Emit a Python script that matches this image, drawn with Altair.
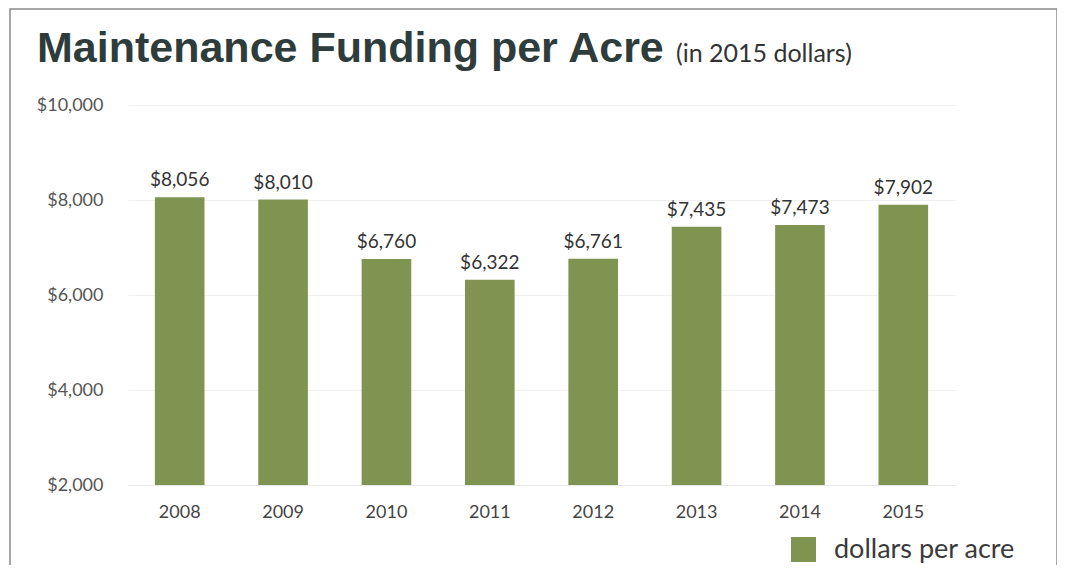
import altair as alt
import pandas as pd

years = ["2008", "2009", "2010", "2011", "2012", "2013", "2014", "2015"]
values = [8056, 8010, 6760, 6322, 6761, 7435, 7473, 7902]
series_name = "dollars per acre"
y_ticks = [2000, 4000, 6000, 8000, 10000]
title_text = "Maintenance Funding per Acre"
subtitle_text = "(in 2015 dollars)"

df = pd.DataFrame({"year": years, "value": values, "series": [series_name] * len(years)})
df["label"] = df["value"].map(lambda v: f"${v:,}")

base = alt.Chart(df)

bars = base.mark_bar(color="#7f9450", clip=True).encode(
    x=alt.X("year:N", title=None, sort=years,
            scale=alt.Scale(paddingInner=0.52, paddingOuter=0.26),
            axis=alt.Axis(labelAngle=0, labelFont="Lato", labelFontSize=18,
                          labelColor="#444", labelPadding=18, ticks=False,
                          domain=True, domainColor="#e8e8e8")),
    y=alt.Y("value:Q", title=None,
            scale=alt.Scale(domain=[2000, 10000], nice=False, zero=False),
            axis=alt.Axis(values=y_ticks, format="$,.0f", labelFont="Lato",
                          labelFontSize=18, labelColor="#555", labelPadding=25,
                          ticks=False, domain=False, gridColor="#f0f0f0")),
    fill=alt.Fill("series:N", scale=alt.Scale(range=["#7f9450"]),
                  legend=alt.Legend(title=None, orient="none", legendX=662, legendY=431,
                                    symbolType="square", symbolSize=625,
                                    symbolFillColor="#7f9450",
                                    symbolStrokeWidth=0, labelFont="Lato",
                                    labelFontSize=27, labelColor="#3a3a3a",
                                    labelLimit=400, labelOffset=17)),
)

labels = base.mark_text(baseline="alphabetic", dy=-11, font="Lato", fontSize=19,
                        color="#333").encode(
    x=alt.X("year:N", sort=years),
    y="value:Q",
    text="label:N",
)

title = alt.Chart(pd.DataFrame({"t": [title_text]})).mark_text(
    align="left", baseline="alphabetic", font="Liberation Sans", fontWeight="bold",
    fontSize=43, color="#2e3d3c").encode(
    x=alt.value(-91), y=alt.value(-43), text="t:N")

subtitle = alt.Chart(pd.DataFrame({"t": [subtitle_text]})).mark_text(
    align="left", baseline="alphabetic", font="Lato", fontSize=25,
    color="#333").encode(
    x=alt.value(548), y=alt.value(-43), text="t:N")

frame = alt.Chart(pd.DataFrame({"a": [0]})).mark_rect(
    fill=None, stroke="#8a8a8a", strokeWidth=1.5).encode(
    x=alt.value(-118), x2=alt.value(929), y=alt.value(-96), y2=alt.value(520))

chart = alt.layer(frame, bars, labels, title, subtitle).properties(
    width=827, height=380,
    autosize=alt.AutoSizeParams(type="none"),
    padding={"left": 120, "top": 97, "right": 102, "bottom": 80},
).configure(background="white").configure_view(stroke=None, strokeWidth=0)

chart.save("out.html", embed_options={"renderer": "svg", "actions": False})
